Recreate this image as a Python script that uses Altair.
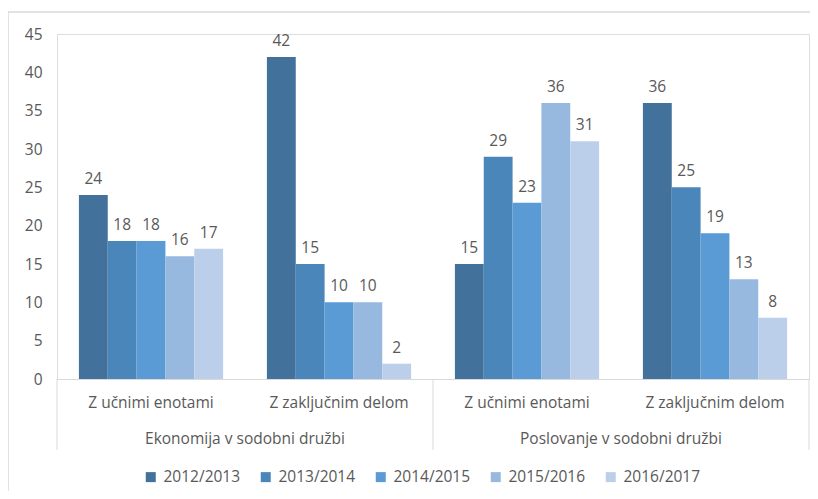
import altair as alt
import pandas as pd

groups = ["Ekonomija v sodobni družbi", "Ekonomija v sodobni družbi",
          "Poslovanje v sodobni družbi", "Poslovanje v sodobni družbi"]
subcats = ["Z učnimi enotami", "Z zaključnim delom", "Z učnimi enotami", "Z zaključnim delom"]
years = ["2012/2013", "2013/2014", "2014/2015", "2015/2016", "2016/2017"]
v_2012_2013 = [24, 42, 15, 36]
v_2013_2014 = [18, 15, 29, 25]
v_2014_2015 = [18, 10, 23, 19]
v_2015_2016 = [16, 10, 36, 13]
v_2016_2017 = [17, 2, 31, 8]
y_ticks = [0, 5, 10, 15, 20, 25, 30, 35, 40, 45]
colors = ["#42719C", "#4B86BA", "#5A9AD5", "#97B8DF", "#BBCFEA"]

series = [v_2012_2013, v_2013_2014, v_2014_2015, v_2015_2016, v_2016_2017]
keys = [f"{i}|{s}" for i, s in enumerate(subcats)]

rows = []
for y, vals in zip(years, series):
    for k, g, v in zip(keys, groups, vals):
        rows.append({"key": k, "group": g, "year": y, "value": v})
df = pd.DataFrame(rows)

W, H = 752, 345
FONT = "Open Sans"
GRAY = "#595959"
LINE = "#D9D9D9"

xscale = alt.Scale(domain=keys, paddingInner=0, paddingOuter=0)
xaxis = alt.Axis(title=None, labelExpr="split(datum.label, '|')[1]", ticks=False, tickSize=0,
                 labelPadding=16, labelFontSize=15.5, labelColor=GRAY, labelFont=FONT,
                 domainColor=LINE, domainWidth=1, grid=False, labelAngle=0)
yaxis = alt.Axis(title=None, values=y_ticks, ticks=False, tickSize=0,
                 domain=False, grid=False, labelPadding=15, labelFontSize=15.5,
                 labelColor=GRAY, labelFont=FONT, labelOverlap=False, labelFlush=False)
yscale = alt.Scale(domain=[0, 45], nice=False)

base = alt.Chart(df)

bars = base.mark_bar().encode(
    x=alt.X("key:N", scale=xscale, axis=xaxis, sort=keys),
    xOffset=alt.XOffset("year:N", sort=years, scale=alt.Scale(paddingOuter=0.76, paddingInner=0)),
    y=alt.Y("value:Q", scale=yscale, axis=yaxis),
    color=alt.Color("year:N", sort=years, scale=alt.Scale(domain=years, range=colors),
                    legend=alt.Legend(title=None, orient="none", legendX=86, legendY=435,
                                      direction="horizontal", symbolType="square", symbolSize=100,
                                      symbolStrokeWidth=0, labelFontSize=15.5, labelColor=GRAY,
                                      labelFont=FONT, labelOffset=5, columnPadding=17, padding=0)),
)

labels = base.mark_text(baseline="bottom", dy=-8, fontSize=15.5, color=GRAY, font=FONT).encode(
    x=alt.X("key:N", sort=keys, scale=xscale, axis=xaxis),
    xOffset=alt.XOffset("year:N", sort=years),
    y=alt.Y("value:Q", scale=yscale, axis=yaxis),
    text="value:Q",
)

sep_left = pd.DataFrame({"key": [keys[0], keys[2]]})
sep_right = pd.DataFrame({"key": [keys[3]]})
rule_l = alt.Chart(sep_left).mark_rule(color=LINE, strokeWidth=1).encode(
    x=alt.X("key:N", bandPosition=0, sort=keys), y=alt.value(H), y2=alt.value(H + 71))
rule_r = alt.Chart(sep_right).mark_rule(color=LINE, strokeWidth=1).encode(
    x=alt.X("key:N", bandPosition=1, sort=keys), y=alt.value(H), y2=alt.value(H + 71))

grp = pd.DataFrame({"key": [keys[0], keys[2]], "group": [groups[0], groups[2]]})
grp_text = alt.Chart(grp).mark_text(baseline="middle", fontSize=15.5, color=GRAY, font=FONT).encode(
    x=alt.X("key:N", bandPosition=1, sort=keys), y=alt.value(H + 60), text="group:N")

frame = alt.Chart(pd.DataFrame({"f": [0]})).mark_rect(filled=False, stroke=LINE, strokeWidth=1.5).encode(
    x=alt.value(-49), x2=alt.value(W + 30), y=alt.value(-22), y2=alt.value(H + 130))

chart = alt.layer(frame, bars, labels, rule_l, rule_r, grp_text).properties(
    width=W, height=H,
    autosize=alt.AutoSizeParams(type="none"),
    padding={"left": 49, "top": 26, "right": 1, "bottom": 112},
).configure_view(stroke=None).configure(background="white").configure_axisY(labelOverlap=False)

chart.save("out.html", embed_options={"renderer": "svg", "actions": False})
